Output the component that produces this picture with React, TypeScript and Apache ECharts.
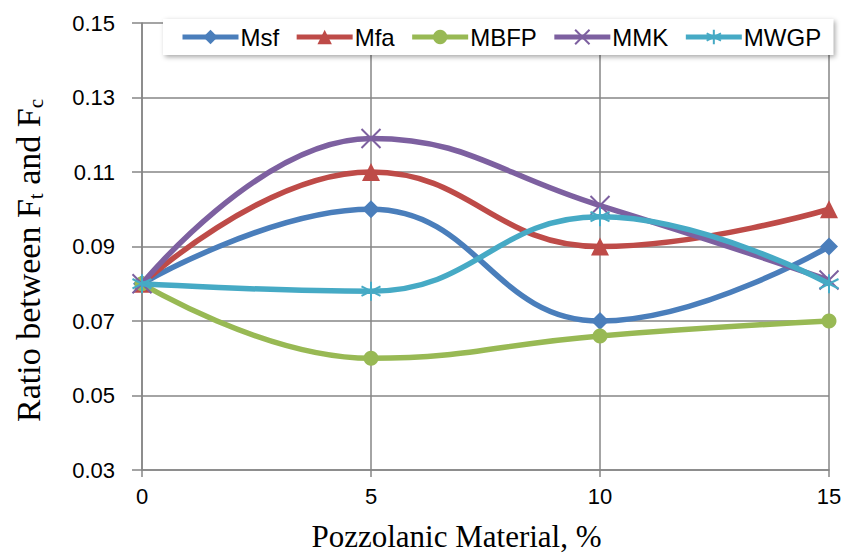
import React, { useEffect, useRef } from "react";
import * as echarts from "echarts";

const xValues = [0, 5, 10, 15];
const seriesNames = ["Msf", "Mfa", "MBFP", "MMK", "MWGP"];
const msf = [0.08, 0.1, 0.07, 0.09];
const mfa = [0.08, 0.11, 0.09, 0.1];
const mbfp = [0.08, 0.06, 0.066, 0.07];
const mmk = [0.08, 0.119, 0.101, 0.081];
const mwgp = [0.08, 0.078, 0.098, 0.08];
const colors = ["#4A7EBB", "#BE4B48", "#98B954", "#7D60A0", "#46AAC5"];

const X_PATH = "path://M0,0L10,10M10,0L0,10";
const STAR_PATH = "path://M5,0L5,10M0,2.5L10,7.5M0,7.5L10,2.5";

export default function App() {
  const ref = useRef<HTMLDivElement>(null);
  useEffect(() => {
    document.body.style.margin = "0";
    const chart = echarts.init(ref.current!, null, { renderer: "svg" });
    const all = [msf, mfa, mbfp, mmk, mwgp];
    const symbols = ["diamond", "triangle", "circle", X_PATH, STAR_PATH];
    const sizes = [18, 18, 15, 19, 19];
    const series = all.map((vals, i) => {
      const isStroke = i >= 3;
      return {
        name: seriesNames[i],
        type: "line",
        smooth: 0.45,
        data: vals.map((v, j) => [xValues[j], v]),
        symbol: symbols[i],
        symbolSize: sizes[i],
        showAllSymbol: true,
        lineStyle: { width: 5.5, color: colors[i] },
        itemStyle: isStroke
          ? { color: "none", borderColor: colors[i], borderWidth: 2 }
          : { color: colors[i], borderWidth: 0 },
        z: 2 + i,
      };
    });
    chart.setOption({
      animation: false,
      backgroundColor: "#ffffff",
      grid: {
        left: 142,
        right: 13,
        top: 23,
        bottom: 84,
        containLabel: false,
        outerBoundsMode: "none",
      },
      legend: {
        data: seriesNames,
        top: 19,
        left: 163,
        itemWidth: 56,
        itemHeight: 18,
        itemGap: 15,
        padding: [6, 12, 6, 17],
        backgroundColor: "#ffffff",
        shadowColor: "rgba(0,0,0,0.35)",
        shadowBlur: 5,
        shadowOffsetX: 2,
        shadowOffsetY: 2,
        lineStyle: { width: 5 },
        textStyle: { fontFamily: "Liberation Sans", fontSize: 24, color: "#000", padding: [0, 0, 0, -3] },
      },
      xAxis: {
        type: "value",
        min: 0,
        max: 15,
        interval: 5,
        name: "Pozzolanic Material, %",
        nameLocation: "middle",
        nameGap: 50,
        nameTextStyle: {
          fontFamily: "Liberation Serif",
          fontSize: 31,
          lineHeight: 32,
          color: "#000",
          padding: [0, 58, 0, 0],
        },
        axisLine: { lineStyle: { color: "#868686", width: 1.5 } },
        axisTick: { show: true, length: 7, lineStyle: { color: "#868686", width: 1.5 } },
        axisLabel: { fontFamily: "Liberation Sans", fontSize: 22, color: "#000", margin: 15 },
        splitLine: { show: true, lineStyle: { color: "#868686", width: 1.5 } },
      },
      yAxis: {
        type: "value",
        min: 0.03,
        max: 0.15,
        interval: 0.02,
        name: "{a|Ratio between F}{s|t}{a| and F}{s|c}",
        nameLocation: "middle",
        nameGap: 95,
        nameTextStyle: {
          fontFamily: "Liberation Serif",
          fontSize: 34,
          color: "#000",
          padding: [0, 28, 0, 0],
          rich: {
            a: { fontFamily: "Liberation Serif", fontSize: 34, color: "#000", lineHeight: 38 },
            s: {
              fontFamily: "Liberation Serif",
              fontSize: 21,
              color: "#000",
              lineHeight: 38,
              padding: [15, 0, 0, 0],
            },
          },
        },
        axisLine: { show: true, lineStyle: { color: "#868686", width: 1.5 } },
        axisTick: { show: true, length: 10, lineStyle: { color: "#868686", width: 1.5 } },
        axisLabel: {
          fontFamily: "Liberation Sans",
          fontSize: 22,
          color: "#000",
          margin: 27,
          formatter: (v: number) => v.toFixed(2),
        },
        splitLine: { show: true, lineStyle: { color: "#868686", width: 1.5 } },
      },
      series,
    });
    return () => chart.dispose();
  }, []);
  return <div ref={ref} style={{ width: 842, height: 554 }} />;
}
